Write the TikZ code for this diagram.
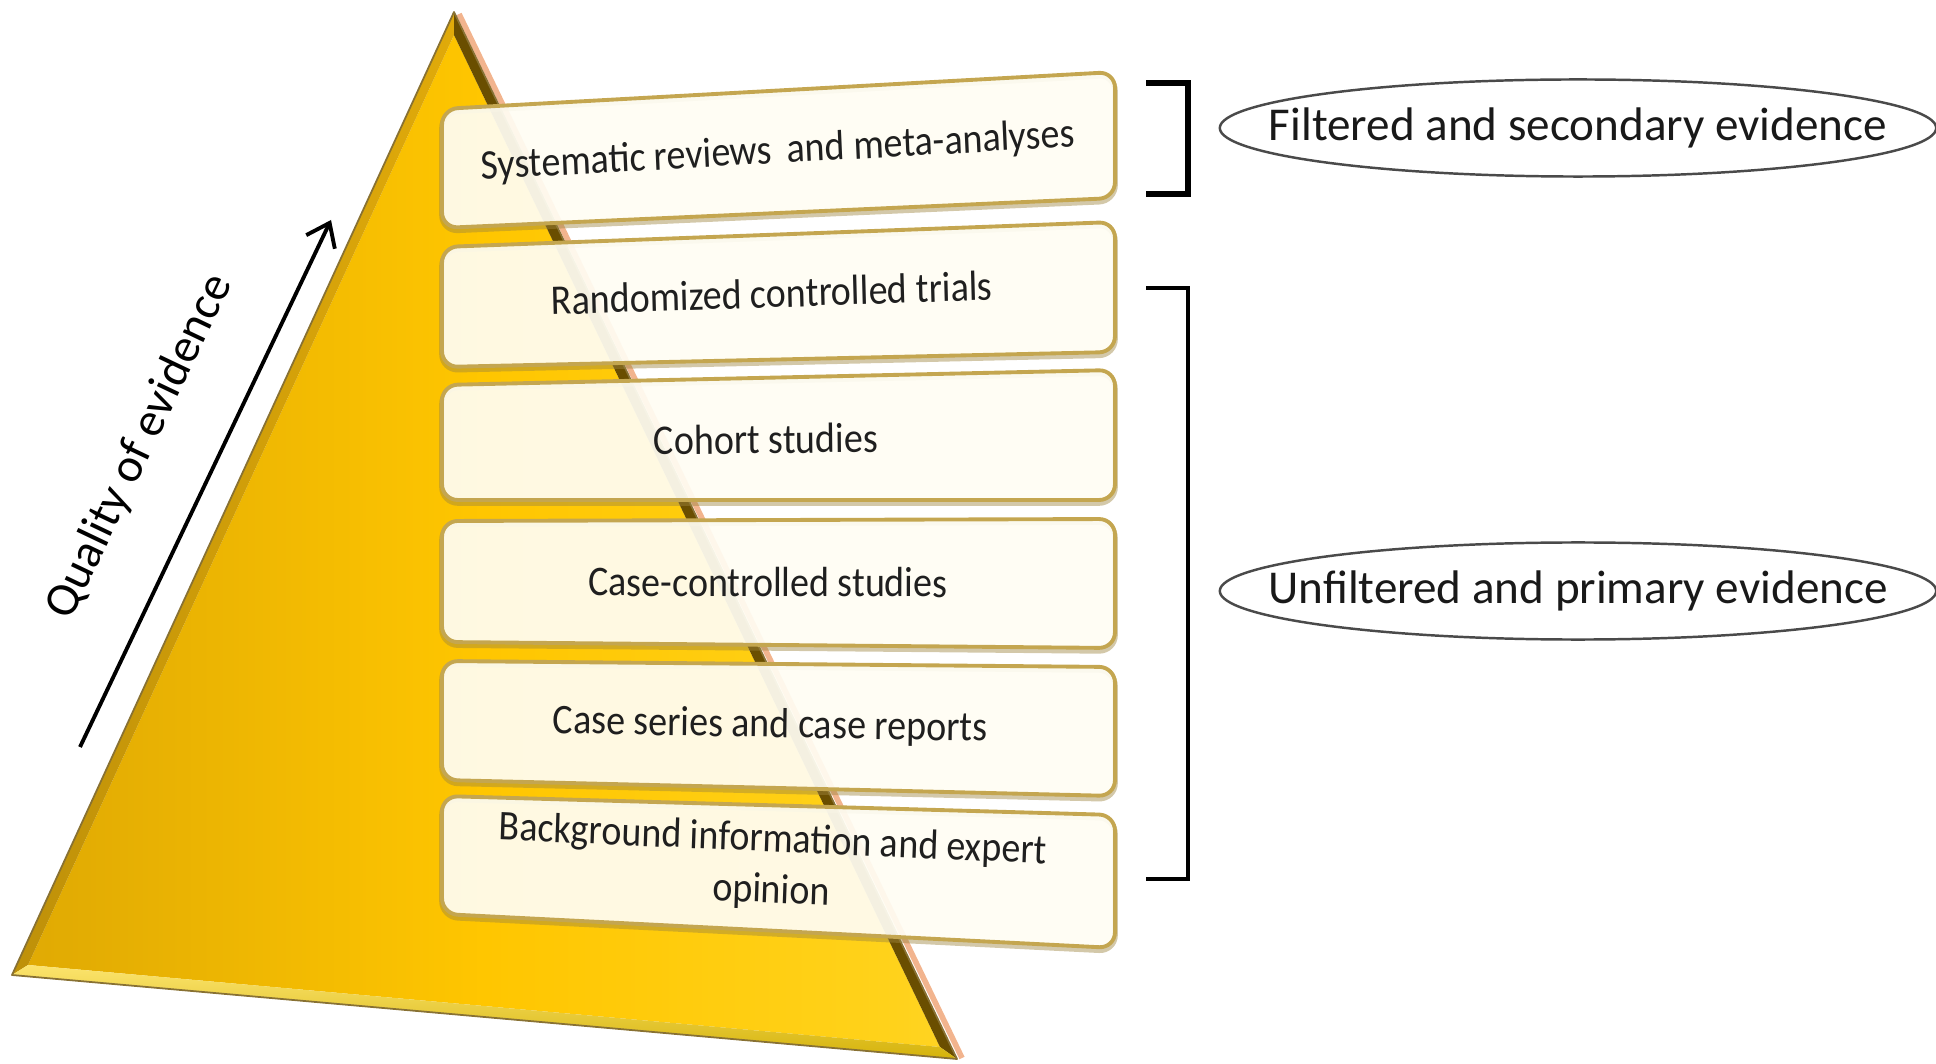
\documentclass[tikz,border=0pt]{standalone}
\usepackage{fontspec}
\setmainfont{Carlito}
\usetikzlibrary{arrows.meta}

\definecolor{goldL}{HTML}{CC9806}
\definecolor{goldM}{HTML}{FFC600}
\definecolor{goldN}{HTML}{FFD21A}
\definecolor{goldR}{HTML}{FCDD62}
\definecolor{goldDark}{HTML}{6A4E00}
\definecolor{goldSide}{HTML}{E0AA0A}
\definecolor{goldBase}{HTML}{FAD20C}
\definecolor{rimPink}{HTML}{F2B48E}
\definecolor{boxFill}{HTML}{FFFDF3}
\definecolor{boxEdge}{HTML}{C4A650}
\definecolor{tagEdge}{HTML}{4A4A4A}

\pgfdeclarehorizontalshading{pyramidgold}{100bp}{color(0bp)=(goldL); color(28bp)=(goldL!55!goldM); color(50bp)=(goldM); color(72bp)=(goldN); color(100bp)=(goldR)}

\begin{document}
\begin{tikzpicture}[x=0.01cm, y=-0.01cm, >={Straight Barb[length=6pt, width=9pt]},
    level/.style={draw=boxEdge, line width=1.1pt, fill=boxFill, fill opacity=0.93, rounded corners=4.5pt},
    levelshade/.style={draw=boxEdge!80!black, line width=1.6pt, opacity=0.45, rounded corners=4.5pt},
    leveltext/.style={font=\fontsize{12}{14.5}\selectfont, xscale=0.9, align=center, text=black!88},
    tag/.style={font=\fontsize{13.4}{15}\selectfont, text=black!90},
    tagline/.style={draw=tagEdge, line width=0.7pt},
    brace/.style={line width=1.6pt, line cap=butt}
  ]
  \useasboundingbox (0,0) rectangle (1936,1064);

  % the pyramid: face plus three bevels
  \coordinate (apex)   at (454,12);
  \coordinate (baseL)  at (12,975);
  \coordinate (baseR)  at (957,1059);
  \coordinate (iapex)  at (454,35);
  \coordinate (ibaseL) at (28,965);
  \coordinate (ibaseR) at (940,1047);
  \draw[rimPink, line width=1.6pt] (459,14) -- (962,1058);
  \shade[shading=pyramidgold] (iapex) -- (ibaseR) -- (ibaseL) -- cycle;
  \fill[goldDark] (apex) -- (baseR) -- (ibaseR) -- (iapex) -- cycle;
  \shade[left color=goldSide!85!black, right color=goldSide] (apex) -- (iapex) -- (ibaseL) -- (baseL) -- cycle;
  \shade[top color=goldBase!60!white, bottom color=goldBase!85!black] (baseL) -- (ibaseL) -- (ibaseR) -- (baseR) -- cycle;
  \draw[goldDark!80, line width=0.5pt, line join=round] (apex) -- (baseR) -- (baseL) -- cycle;

  % levels, top to bottom
  \draw[levelshade] (442,112) -- (1115,75) -- (1115,201) -- (442,231) -- cycle;
  \draw[level] (442,109) -- (1115,72) -- (1115,198) -- (442,228) -- cycle;
  \draw[levelshade] (442,250) -- (1115,225) -- (1115,355) -- (442,370) -- cycle;
  \draw[level] (442,247) -- (1115,222) -- (1115,352) -- (442,367) -- cycle;
  \draw[levelshade] (442,388) -- (1115,373) -- (1115,503) -- (442,503) -- cycle;
  \draw[level] (442,385) -- (1115,370) -- (1115,500) -- (442,500) -- cycle;
  \draw[levelshade] (442,524) -- (1115,522) -- (1115,651) -- (442,645) -- cycle;
  \draw[level] (442,521) -- (1115,519) -- (1115,648) -- (442,642) -- cycle;
  \draw[levelshade] (442,664) -- (1115,670) -- (1115,799) -- (442,783) -- cycle;
  \draw[level] (442,661) -- (1115,667) -- (1115,796) -- (442,780) -- cycle;
  \draw[levelshade] (442,799) -- (1115,818) -- (1115,951) -- (442,917) -- cycle;
  \draw[level] (442,796) -- (1115,815) -- (1115,948) -- (442,914) -- cycle;

  \node[leveltext, rotate=2.85]  (sysrev)  at (778,152) {Systematic reviews\, and meta-analyses};
  \node[leveltext, rotate=1.7]   (rct)     at (772,293) {Randomized controlled trials};
  \node[leveltext, rotate=0.64]  (cohort)  at (766,439) {Cohort studies};
  \node[leveltext, rotate=-0.17] (casectl) at (768,582) {Case-controlled studies};
  \node[leveltext, rotate=-0.94] (series)  at (770,726) {Case series and case reports};
  \node[leveltext, rotate=-2.25] (expert)  at (772,866) {Background information and expert\\opinion};

  % brackets and their tags
  \draw[brace] (1146,83) -- (1188,83) -- (1188,194) -- (1146,194);
  \draw[brace, line width=1.3pt] (1146,288) -- (1188,288) -- (1188,879) -- (1146,879);

  \node[tag] (filtered)   at (1578,128) {Filtered and secondary evidence};
  \node[tag] (unfiltered) at (1578,591) {Unfiltered and primary evidence};
  \draw[tagline] (filtered.center) ellipse [x radius=3.58cm, y radius=0.485cm];
  \draw[tagline] (unfiltered.center) ellipse [x radius=3.58cm, y radius=0.485cm];

  % quality axis
  \coordinate (qlow)  at (80,747);
  \coordinate (qhigh) at (331,220);
  \draw[->, line width=1.1pt] (qlow) -- (qhigh);
  \node[rotate=64.5, font=\fontsize{13.6}{15}\selectfont] (quality) at (140,447) {Quality of evidence};
\end{tikzpicture}
\end{document}
